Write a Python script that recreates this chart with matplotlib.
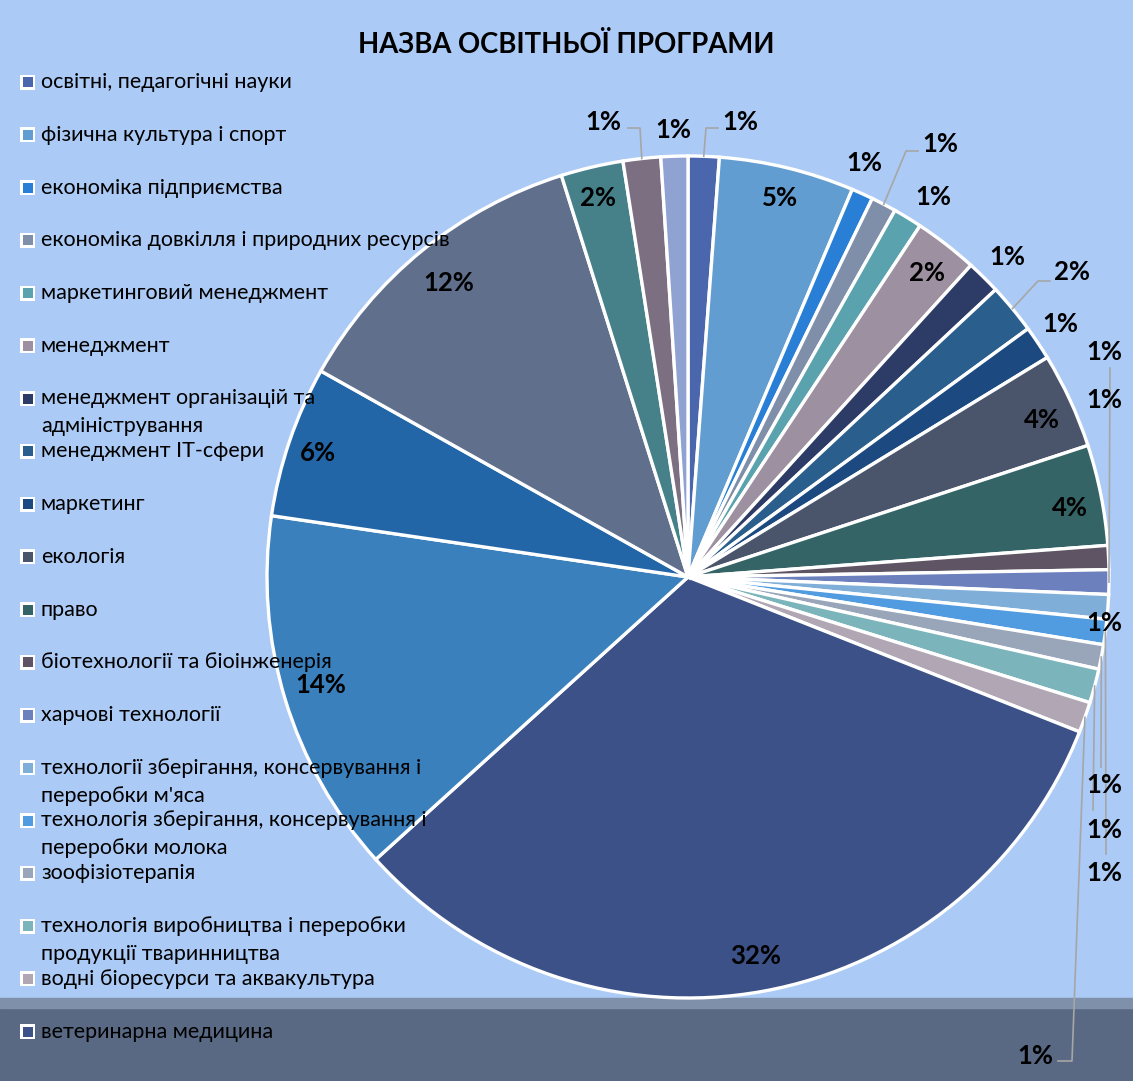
import matplotlib
matplotlib.use('Agg')
import matplotlib.pyplot as plt
from matplotlib.patches import Rectangle
import numpy as np

plt.rcParams['font.family'] = ['Lato', 'DejaVu Sans']

title = "НАЗВА ОСВІТНЬОЇ ПРОГРАМИ"

# Names shown in the legend (the legend box cuts off after the 19th entry)
legend_labels = [
    "освітні, педагогічні науки",
    "фізична культура і спорт",
    "економіка підприємства",
    "економіка довкілля і природних ресурсів",
    "маркетинговий менеджмент",
    "менеджмент",
    "менеджмент організацій та\nадміністрування",
    "менеджмент ІТ-сфери",
    "маркетинг",
    "екологія",
    "право",
    "біотехнології та біоінженерія",
    "харчові технології",
    "технології зберігання, консервування і\nпереробки м'яса",
    "технологія зберігання, консервування і\nпереробки молока",
    "зоофізіотерапія",
    "технологія виробництва і переробки\nпродукції тваринництва",
    "водні біоресурси та аквакультура",
    "ветеринарна медицина",
]

# Share of each slice (%), clockwise from 12 o'clock
values = [1.19, 5.19, 0.83, 0.97, 1.11, 2.44, 1.31, 1.92, 1.31, 3.67, 3.86,
          0.92, 0.94, 0.94, 0.97, 0.94, 1.31, 1.17, 32.3, 14.03, 5.81, 12.0,
          2.39, 1.44, 1.03]

colors = ['#4a66ac', '#629dd1', '#297fd5', '#7f8fa9', '#5aa2ae', '#9d90a0',
          '#2d3c66', '#2a5e8c', '#1c4a80', '#4a556b', '#356466', '#5f5463',
          '#6b80bd', '#7fafd9', '#519be0', '#99a6ba', '#7bb5bb', '#b1a6b3',
          '#3b5187', '#3a80bd', '#2366a8', '#5f6f8c', '#46818a', '#7c6f81',
          '#8fa2d1']

W, H = 1133, 1081
cx, cy, R = 688, 577, 421

# label positions (pixels, from top-left); others sit at 0.9 R on the mid angle
label_pos = {
    0: (740, 122), 1: (780, 198), 2: (864, 163), 3: (940, 144),
    4: (933, 197), 5: (927, 273), 6: (1007, 257), 7: (1072, 272),
    8: (1060, 324), 9: (1042, 420), 10: (1070, 508),
    11: (1104, 400), 12: (1104, 352), 13: (1104, 623),
    14: (1104, 873), 15: (1104, 785), 16: (1104, 830), 17: (1035, 1056),
    18: (756, 956), 19: (321, 685), 20: (318, 453),
    22: (598, 198), 23: (603, 122), 24: (673, 130),
}
# leader line bends (pixels) from the slice edge towards the label
leaders = {
    0: [(706, 128), (718, 128)],
    3: [(906, 151), (918, 151)],
    7: [(1038, 281), (1050, 281)],
    12: [(1110, 368)],
    14: [(1106, 854)],
    15: [(1101, 767)],
    16: [(1093, 810)],
    17: [(1072, 1061), (1058, 1061)],
    23: [(640, 128), (628, 128)],
}


def main():
    fig = plt.figure(figsize=(W / 100, H / 100), dpi=100)
    fig.patch.set_facecolor('#abcaf5')
    ax = fig.add_axes([0, 0, 1, 1])

    # darker strip along the bottom edge
    ax.add_patch(Rectangle((0, 0), W, H - 1008, color='#596984', zorder=0))
    ax.add_patch(Rectangle((0, H - 1008), W, 10, color='#7f90aa', zorder=0))

    wedges, _ = ax.pie(values, colors=colors, startangle=90, counterclock=False,
                       radius=R, center=(cx, H - cy), frame=True,
                       wedgeprops=dict(edgecolor='white', linewidth=2.4))
    ax.set_xlim(0, W)
    ax.set_ylim(0, H)
    ax.set_aspect('auto')
    ax.axis('off')

    total = sum(values)
    for i, w in enumerate(wedges):
        pct = values[i] / total * 100
        mid = np.deg2rad((w.theta1 + w.theta2) / 2)
        if i in label_pos:
            px, py = label_pos[i]
            x, y = px, H - py
        else:
            x = cx + 0.9 * R * np.cos(mid)
            y = (H - cy) + 0.9 * R * np.sin(mid)
        ax.text(x, y, f"{pct:.0f}%", ha='center', va='center',
                fontsize=18.5, fontweight='bold', color='black', zorder=5)
        if i in leaders:
            ex = cx + R * np.cos(mid)
            ey = (H - cy) + R * np.sin(mid)
            pts = [(ex, ey)] + [(p[0], H - p[1]) for p in leaders[i]]
            xs, ys = zip(*pts)
            ax.plot(xs, ys, color='#a6a6a6', lw=1.2, zorder=4)

    # legend on the left
    for i, lab in enumerate(legend_labels):
        y = H - (82 + 52.75 * i)
        ax.add_patch(Rectangle((20, y - 7.5), 15, 15, facecolor='white',
                               edgecolor='none', zorder=3))
        ax.add_patch(Rectangle((22.5, y - 5), 10, 10, facecolor=colors[i],
                               edgecolor='none', zorder=4))
        for k, line in enumerate(lab.split('\n')):
            ax.text(41, y - 28 * k, line, ha='left', va='center',
                    fontsize=15.5, color='black', zorder=5)

    ax.text(566, H - 45, title, ha='center', va='center', fontsize=19.8,
            fontweight='bold', color='black')

    fig.savefig('out.png', dpi=100, facecolor=fig.get_facecolor())
    plt.close(fig)


if __name__ == '__main__':
    main()
